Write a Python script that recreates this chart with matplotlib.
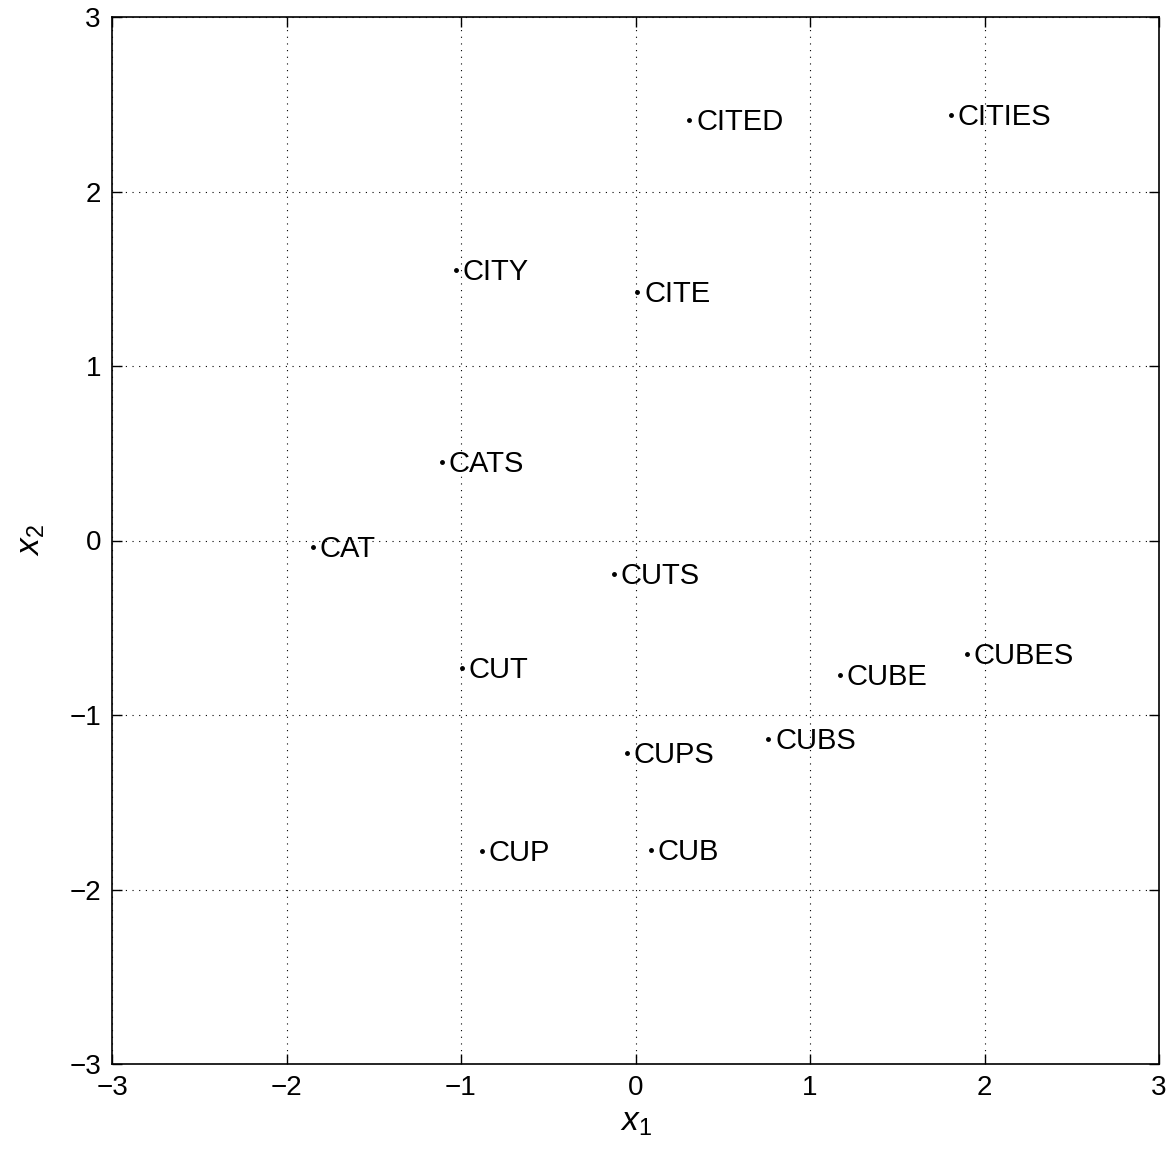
import matplotlib
matplotlib.use("Agg")
import matplotlib.pyplot as plt

plt.rcParams['font.family'] = ['Liberation Sans', 'DejaVu Sans']
plt.rcParams['mathtext.fontset'] = 'custom'
plt.rcParams['mathtext.it'] = 'Liberation Sans:italic'
plt.rcParams['mathtext.rm'] = 'Liberation Sans'

words = ["CITED", "CITIES", "CITY", "CITE", "CATS", "CAT", "CUTS", "CUT",
         "CUBES", "CUBE", "CUBS", "CUPS", "CUP", "CUB"]
x1 = [0.307, 1.808, -1.029, 0.009, -1.109, -1.848, -0.123, -0.995,
      1.900, 1.172, 0.762, -0.049, -0.880, 0.089]
x2 = [2.410, 2.438, 1.550, 1.424, 0.450, -0.037, -0.192, -0.731,
      -0.650, -0.771, -1.138, -1.218, -1.779, -1.774]
ticks = [-3, -2, -1, 0, 1, 2, 3]

fig = plt.figure(figsize=(11.73, 11.53), dpi=100)
ax = fig.add_axes([112/1173, 1-1064/1153, (1159-112)/1173, (1064-17)/1153])
ax.plot(x1, x2, '.', color='black', markersize=5)
for w, a, b in zip(words, x1, x2):
    ax.annotate(w, (a, b), xytext=(5, -1.5), textcoords='offset points',
                ha='left', va='center', fontsize=21)
ax.set_xlim(-3, 3)
ax.set_ylim(-3, 3)
ax.set_xticks(ticks)
ax.set_yticks(ticks)
lbls = ['\u2212' + str(-t) if t < 0 else str(t) for t in ticks]
ax.set_xticklabels(lbls)
ax.set_yticklabels(lbls)
ax.tick_params(direction='in', top=True, right=True, labelsize=20, length=7, width=1)
ax.tick_params(axis='x', pad=8)
ax.tick_params(axis='y', pad=8)
ax.grid(True, linestyle=(0, (1, 5)), color='black', linewidth=0.8)
for s in ax.spines.values():
    s.set_linewidth(1.2)
ax.set_xlabel('$x_1$', fontsize=24, labelpad=4)
ax.set_ylabel('$x_2$', fontsize=24, labelpad=16)
fig.savefig('out.png', dpi=100)
